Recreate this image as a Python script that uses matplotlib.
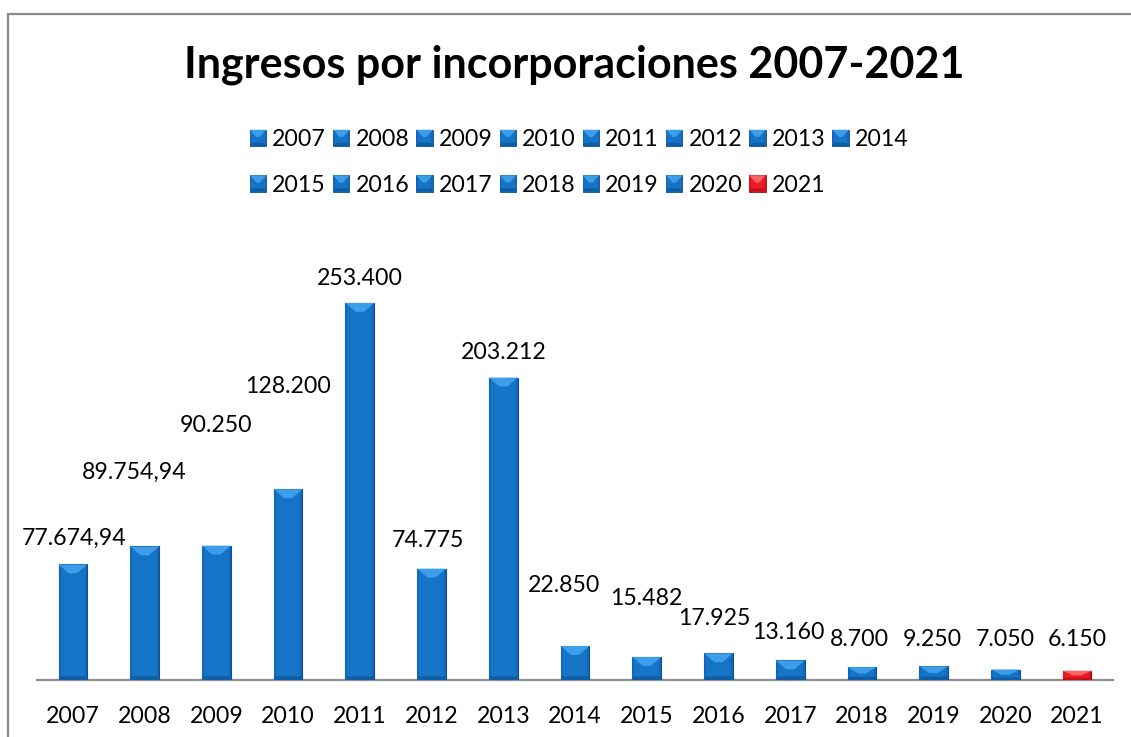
import numpy as np
import matplotlib.pyplot as plt
from matplotlib.patches import Polygon, Rectangle, Patch
from matplotlib.legend_handler import HandlerBase

plt.rcParams['font.family'] = ['Lato', 'DejaVu Sans']

years = ['2007', '2008', '2009', '2010', '2011', '2012', '2013', '2014',
         '2015', '2016', '2017', '2018', '2019', '2020', '2021']
values = [77674.94, 89754.94, 90250, 128200, 253400, 74775, 203212, 22850,
          15482, 17925, 13160, 8700, 9250, 7050, 6150]

# data labels were dragged around by hand in the original, so keep where they sit
label_y = [95400, 139700, 171300, 197400, 270000, 94000, 220300, 63800,
           55100, 41600, 32200, 26900, 26900, 26900, 26900]
label_dx = [0.02, -0.15, 0.0, 0.0, 0.0, -0.05, 0.0, -0.15,
            0.0, -0.06, -0.03, -0.03, -0.02, 0.0, 0.0]

blue = dict(face='#1674C7', top='#3C9DEA', side='#1367B6', bottom='#0F5DA6',
            edge='#0C4F8E')
red = dict(face='#EC1C24', top='#FF6262', side='#D9161E', bottom='#C01218',
           edge='#9A0C10')


def fmt_es(v):
    # spanish style numbers: 77.674,94
    s = f'{v:,.2f}' if v != int(v) else f'{v:,.0f}'
    return s.replace(',', 'X').replace('.', ',').replace('X', '.')


def bevel(x0, y0, w, h, ds, dtx, dty, dby, c, transform):
    # side strips ds wide, top light trapezoid dtx/dty, dark bottom dby
    dty = min(dty, h / 2)
    dby = min(dby, h / 4)
    x1, y1 = x0 + w, y0 + h
    faces = [
        ([(x0, y0), (x0 + ds, y0), (x0 + ds, y1), (x0, y1)], c['side']),
        ([(x1, y0), (x1 - ds, y0), (x1 - ds, y1), (x1, y1)], c['side']),
        ([(x0, y0), (x1, y0), (x1 - ds, y0 + dby), (x0 + ds, y0 + dby)], c['bottom']),
        ([(x0, y1), (x1, y1), (x1 - dtx, y1 - dty), (x0 + dtx, y1 - dty)], c['top']),
    ]
    return [Polygon(p, closed=True, facecolor=col, edgecolor='none',
                    transform=transform) for p, col in faces]


class BevelHandler(HandlerBase):
    def __init__(self, colors):
        super().__init__()
        self.colors = colors

    def create_artists(self, legend, orig_handle, xdescent, ydescent,
                       width, height, fontsize, trans):
        s = height
        x0 = -xdescent + (width - s) / 2
        base = Rectangle((x0, -ydescent), s, s, facecolor=self.colors['face'],
                         edgecolor=self.colors['edge'], lw=0.6, transform=trans)
        return [base] + bevel(x0, -ydescent, s, s, s * 0.08, s * 0.4, s * 0.45,
                              s * 0.2, self.colors, trans)


fig = plt.figure(figsize=(11.31, 7.37), dpi=100)
ax = fig.add_axes([37 / 1131, 1 - 680 / 737, 1076 / 1131, 446.4 / 737])

x = np.arange(len(years))
colors = [blue] * (len(years) - 1) + [red]
bars = ax.bar(x, values, width=0.4, color=[c['face'] for c in colors],
              edgecolor=[c['edge'] for c in colors], linewidth=0.8, zorder=2)

ax.set_xlim(-0.5, len(years) - 0.5)
ax.set_ylim(0, 300000)

# bevel faces on top of every bar
for b, c in zip(bars, colors):
    w = b.get_width()
    for p in bevel(b.get_x(), b.get_y(), w, b.get_height(),
                   w * 0.07, w * 0.36, 6000, 2500, c, ax.transData):
        p.set_zorder(2.5)
        ax.add_patch(p)

for i, v in enumerate(values):
    ax.text(i + label_dx[i], label_y[i], fmt_es(v), ha='center', va='center',
            fontsize=16.7, color='black')

ax.set_xticks(x)
ax.set_xticklabels(years, fontsize=16.7)
ax.tick_params(axis='x', length=0, pad=19)
ax.set_yticks([])
for s in ['left', 'right', 'top']:
    ax.spines[s].set_visible(False)
ax.spines['bottom'].set_color('#8C8C8C')
ax.spines['bottom'].set_linewidth(1.6)
ax.spines['bottom'].set_zorder(1)

fig.text(0.5075, 1 - 65 / 737, 'Ingresos por incorporaciones 2007-2021',
         ha='center', va='center', fontsize=31, fontweight='bold')

# legend: 8 columns, reorder so it reads row by row
handles = [Patch(label=y) for y in years]
hmap = {h: BevelHandler(c) for h, c in zip(handles, colors)}
order = [0, 8, 1, 9, 2, 10, 3, 11, 4, 12, 5, 13, 6, 14, 7]
fig.legend([handles[i] for i in order], [years[i] for i in order],
           handler_map=hmap, ncol=8, frameon=False, fontsize=16.7,
           loc='upper left', bbox_to_anchor=(250 / 1131, 1 - 129 / 737),
           borderpad=0, borderaxespad=0, handlelength=0.7, handleheight=0.7,
           handletextpad=0.26, columnspacing=0.31, labelspacing=1.06)

# outer chart border
fig.add_artist(Rectangle((7.5 / 1131, -0.05), 1.2, (737 - 13.5) / 737 + 0.05,
                         transform=fig.transFigure, fill=False,
                         edgecolor='#8A8A8A', lw=1.6))

fig.savefig('out.png', dpi=100)
